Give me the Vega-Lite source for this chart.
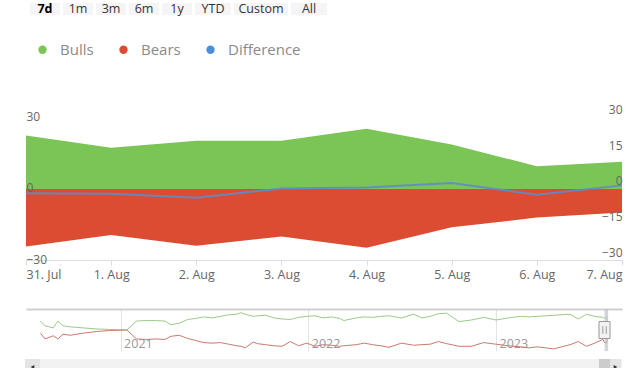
{
  "$schema": "https://vega.github.io/schema/vega-lite/v6.json",
  "background": "white",
  "padding": {"left": 22, "right": 22, "top": 3, "bottom": 0},
  "config": {"font": "Open Sans", "view": {"stroke": null}},
  "spacing": 28,
  "resolve": {"scale": {"x": "independent", "y": "independent", "color": "independent"}},
  "vconcat": [
    {
      "spacing": 26,
      "resolve": {"scale": {"x": "independent", "y": "independent", "color": "independent"}},
      "vconcat": [
        {
          "width": 302,
          "height": 12,
          "data": {"values": [{"label": "7d"}, {"label": "1m"}, {"label": "3m"}, {"label": "6m"}, {"label": "1y"}, {"label": "YTD"}, {"label": "Custom"}, {"label": "All"}]},
          "transform": [
            {"calculate": "6 * length(datum.label) + 18", "as": "w"},
            {"calculate": "datum.w + 3", "as": "stepw"},
            {"window": [{"op": "sum", "field": "stepw", "as": "cum"}], "frame": [null, 0]},
            {"calculate": "4 + datum.cum - datum.stepw", "as": "left"},
            {"calculate": "datum.left + datum.w", "as": "right"},
            {"calculate": "datum.left + datum.w / 2", "as": "mid"}
          ],
          "layer": [
            {
              "mark": {"type": "rect", "color": "#f5f5f5"},
              "encoding": {
                "x": {"field": "left", "type": "quantitative", "scale": {"domain": [0, 302], "nice": false, "zero": false}, "axis": null},
                "x2": {"field": "right"}
              }
            },
            {
              "transform": [{"filter": "datum.label !== '7d'"}],
              "mark": {"type": "text", "fontSize": 12.5, "color": "#333333", "baseline": "middle"},
              "encoding": {"x": {"field": "mid", "type": "quantitative"}, "text": {"field": "label"}}
            },
            {
              "transform": [{"filter": "datum.label === '7d'"}],
              "mark": {"type": "text", "fontSize": 12.5, "fontWeight": "bold", "color": "#000000", "baseline": "middle"},
              "encoding": {"x": {"field": "mid", "type": "quantitative"}, "text": {"field": "label"}}
            }
          ]
        },
        {
          "width": 596,
          "height": 154,
          "data": {
            "values": [
              {"date": "2023-07-31", "Bulls": 22.5, "Bears": -24.3, "Difference": -1.8},
              {"date": "2023-08-01", "Bulls": 17.4, "Bears": -19.4, "Difference": -2.0},
              {"date": "2023-08-02", "Bulls": 20.3, "Bears": -24.0, "Difference": -3.7},
              {"date": "2023-08-03", "Bulls": 20.3, "Bears": -20.1, "Difference": 0.2},
              {"date": "2023-08-04", "Bulls": 25.4, "Bears": -24.8, "Difference": 0.6},
              {"date": "2023-08-05", "Bulls": 18.7, "Bears": -16.2, "Difference": 2.5},
              {"date": "2023-08-06", "Bulls": 9.6, "Bears": -12.1, "Difference": -2.5},
              {"date": "2023-08-07", "Bulls": 11.5, "Bears": -10.0, "Difference": 1.5}
            ],
            "format": {"parse": {"date": "date:'%Y-%m-%d'"}}
          },
          "resolve": {"axis": {"y": "independent"}},
          "layer": [
            {
              "transform": [{"fold": ["Bulls", "Bears"], "as": ["series", "value"]}],
              "mark": {"type": "area", "opacity": 1},
              "encoding": {
                "x": {"field": "date", "type": "temporal", "axis": {"format": "%-d. %b", "tickCount": {"interval": "day", "step": 1}, "labelFlush": true, "title": null, "grid": false, "domainColor": "#d8dde8", "tickColor": "#d8dde8", "tickSize": 5, "labelColor": "#666666", "labelFontSize": 12.5, "labelPadding": 3, "labelAngle": 0}},
                "y": {"field": "value", "type": "quantitative", "stack": null, "scale": {"domain": [-30, 35], "nice": false, "zero": false}, "axis": {"orient": "left", "values": [-30, 0, 30], "title": null, "domain": false, "ticks": false, "tickSize": 0, "grid": false, "labelAlign": "left", "labelPadding": 0, "labelOffset": -1, "labelColor": "#666666", "labelFontSize": 12, "zindex": 1}},
                "y2": {"datum": 0},
                "color": {"field": "series", "type": "nominal", "scale": {"domain": ["Bulls", "Bears", "Difference"], "range": ["#7bc456", "#db4c33", "#4a8fdc"]}, "legend": {"orient": "none", "legendX": 9, "legendY": -64, "direction": "horizontal", "title": null, "symbolType": "circle", "symbolSize": 70, "symbolStrokeWidth": 0, "labelFontSize": 15, "labelColor": "#8a8a8a", "labelOffset": 10, "columnPadding": 22, "padding": 0}}
              }
            },
            {
              "mark": {"type": "line", "color": "#5b8dc9", "strokeWidth": 2, "opacity": 0.9},
              "encoding": {
                "x": {"field": "date", "type": "temporal"},
                "y": {"field": "Difference", "type": "quantitative", "axis": {"orient": "right", "values": [-30, -15, 0, 15, 30], "title": null, "domain": false, "ticks": false, "tickSize": 0, "grid": false, "labelAlign": "right", "labelPadding": 0, "labelOffset": -8, "labelColor": "#666666", "labelFontSize": 12, "zindex": 1}}
              }
            }
          ]
        }
      ]
    },
    {
      "spacing": 0,
      "resolve": {"scale": {"x": "independent", "y": "independent"}},
      "vconcat": [
        {
          "width": 596,
          "height": 42,
          "resolve": {"axis": {"x": "independent"}},
          "layer": [
            {
              "data": {"name": "nav"},
              "mark": {"type": "line", "color": "#9cca88", "strokeWidth": 1},
              "encoding": {
                "x": {"field": "date", "type": "temporal", "scale": {"domain": [{"year": 2020, "month": 7, "date": 1}, {"year": 2023, "month": 9, "date": 3}]}, "axis": {"orient": "bottom", "values": [{"year": 2021, "month": 1, "date": 1}, {"year": 2022, "month": 1, "date": 1}, {"year": 2023, "month": 1, "date": 1}], "format": "%Y", "title": null, "grid": true, "gridColor": "#e3e3e3", "domain": false, "ticks": false, "tickSize": 0, "labelAlign": "left", "labelBaseline": "alphabetic", "labelPadding": -4, "labelOffset": 3, "labelFlush": false, "labelColor": "#999999", "labelFontSize": 12.5}},
                "y": {"field": "bulls", "type": "quantitative", "scale": {"domain": [-40, 40], "nice": false, "zero": false}, "axis": null}
              }
            },
            {
              "data": {"name": "nav"},
              "mark": {"type": "line", "color": "#c97a70", "strokeWidth": 1},
              "encoding": {
                "x": {"field": "date", "type": "temporal", "axis": null},
                "y": {"field": "bears", "type": "quantitative", "axis": null}
              }
            },
            {
              "data": {"name": "sel"},
              "mark": {"type": "rect", "color": "#bfc4cc", "opacity": 0.7},
              "encoding": {
                "x": {"field": "start", "type": "temporal", "axis": {"orient": "top", "labels": false, "ticks": false, "grid": false, "domain": true, "domainColor": "#d0d0d0", "domainWidth": 2, "title": null}},
                "x2": {"field": "end"}
              }
            },
            {
              "data": {"name": "sel"},
              "mark": {"type": "point", "shape": "M-0.65,-1H0.65V1H-0.65Z M-0.2,-0.45V0.45 M0.2,-0.45V0.45", "size": 289, "filled": true, "fill": "#f2f2f2", "stroke": "#999999", "strokeWidth": 1, "opacity": 1},
              "encoding": {
                "x": {"field": "start", "type": "temporal", "axis": null},
                "y": {"datum": 0}
              }
            }
          ]
        },
        {
          "width": 596,
          "height": 16,
          "view": {"fill": "#f2f2f2", "stroke": null},
          "resolve": {"scale": {"x": "independent"}},
          "layer": [
            {
              "data": {"name": "sel"},
              "mark": {"type": "rule", "color": "#cccccc", "strokeWidth": 11},
              "encoding": {"x": {"field": "start", "type": "temporal", "scale": {"domain": [{"year": 2020, "month": 7, "date": 1}, {"year": 2023, "month": 9, "date": 3}]}, "axis": null}}
            },
            {
              "data": {"values": [{"part": "left"}, {"part": "right"}]},
              "mark": {"type": "rule", "color": "#e4e4e4"},
              "encoding": {
                "x": {"field": "part", "type": "nominal", "scale": {"type": "point", "padding": 0.0111}, "axis": null},
                "size": {"field": "part", "type": "nominal", "scale": {"domain": ["left", "right"], "range": [15, 11]}, "legend": null}
              }
            },
            {
              "data": {"values": [{"part": "left"}, {"part": "right"}]},
              "mark": {"type": "point", "filled": true, "color": "#333333", "size": 18, "opacity": 1},
              "encoding": {
                "x": {"field": "part", "type": "nominal", "scale": {"type": "point", "padding": 0.0111}, "axis": null},
                "shape": {"field": "part", "type": "nominal", "scale": {"domain": ["left", "right"], "range": ["triangle-left", "triangle-right"]}, "legend": null}
              }
            }
          ]
        }
      ]
    }
  ],
  "datasets": {
    "sel": [{"start": "2023-07-31T00:00:00", "end": "2023-08-07T00:00:00"}],
    "nav": [
      {"date": "2020-07-29T00:00:00", "bulls": 17, "bears": -6},
      {"date": "2020-08-07T00:00:00", "bulls": 8, "bears": -17},
      {"date": "2020-08-23T00:00:00", "bulls": 4, "bears": -11},
      {"date": "2020-09-01T00:00:00", "bulls": 17, "bears": -17},
      {"date": "2020-09-11T00:00:00", "bulls": 8, "bears": -8},
      {"date": "2020-09-25T00:00:00", "bulls": 6, "bears": -10},
      {"date": "2020-10-20T00:00:00", "bulls": 4, "bears": -6},
      {"date": "2020-11-15T00:00:00", "bulls": 2, "bears": -3},
      {"date": "2020-12-10T00:00:00", "bulls": 1, "bears": -1},
      {"date": "2021-01-13T00:00:00", "bulls": 0, "bears": 0},
      {"date": "2021-02-01T00:00:00", "bulls": 17, "bears": -17},
      {"date": "2021-02-20T00:00:00", "bulls": 18, "bears": -18},
      {"date": "2021-03-10T00:00:00", "bulls": 18, "bears": -17},
      {"date": "2021-03-28T00:00:00", "bulls": 17, "bears": -18},
      {"date": "2021-04-09T00:00:00", "bulls": 10, "bears": -12},
      {"date": "2021-04-25T00:00:00", "bulls": 13, "bears": -10},
      {"date": "2021-05-11T00:00:00", "bulls": 20, "bears": -16},
      {"date": "2021-05-27T00:00:00", "bulls": 22, "bears": -20},
      {"date": "2021-06-12T00:00:00", "bulls": 25, "bears": -24},
      {"date": "2021-06-28T00:00:00", "bulls": 23, "bears": -25},
      {"date": "2021-07-14T00:00:00", "bulls": 26, "bears": -24},
      {"date": "2021-07-30T00:00:00", "bulls": 29, "bears": -27},
      {"date": "2021-08-15T00:00:00", "bulls": 30, "bears": -30},
      {"date": "2021-08-23T00:00:00", "bulls": 33, "bears": -31},
      {"date": "2021-08-31T00:00:00", "bulls": 30, "bears": -34},
      {"date": "2021-09-16T00:00:00", "bulls": 26, "bears": -23},
      {"date": "2021-09-24T00:00:00", "bulls": 27, "bears": -26},
      {"date": "2021-10-10T00:00:00", "bulls": 28, "bears": -28},
      {"date": "2021-10-26T00:00:00", "bulls": 23, "bears": -30},
      {"date": "2021-11-11T00:00:00", "bulls": 21, "bears": -31},
      {"date": "2021-11-27T00:00:00", "bulls": 20, "bears": -22},
      {"date": "2021-12-13T00:00:00", "bulls": 24, "bears": -30},
      {"date": "2021-12-29T00:00:00", "bulls": 26, "bears": -25},
      {"date": "2022-01-14T00:00:00", "bulls": 27, "bears": -31},
      {"date": "2022-01-30T00:00:00", "bulls": 23, "bears": -28},
      {"date": "2022-02-15T00:00:00", "bulls": 25, "bears": -29},
      {"date": "2022-03-03T00:00:00", "bulls": 22, "bears": -31},
      {"date": "2022-03-11T00:00:00", "bulls": 18, "bears": -30},
      {"date": "2022-04-04T00:00:00", "bulls": 23, "bears": -28},
      {"date": "2022-04-20T00:00:00", "bulls": 25, "bears": -25},
      {"date": "2022-05-06T00:00:00", "bulls": 24, "bears": -28},
      {"date": "2022-05-22T00:00:00", "bulls": 26, "bears": -30},
      {"date": "2022-06-07T00:00:00", "bulls": 27, "bears": -33},
      {"date": "2022-07-01T00:00:00", "bulls": 23, "bears": -25},
      {"date": "2022-07-25T00:00:00", "bulls": 30, "bears": -29},
      {"date": "2022-08-10T00:00:00", "bulls": 23, "bears": -28},
      {"date": "2022-08-26T00:00:00", "bulls": 26, "bears": -27},
      {"date": "2022-09-11T00:00:00", "bulls": 31, "bears": -22},
      {"date": "2022-09-27T00:00:00", "bulls": 32, "bears": -26},
      {"date": "2022-10-21T00:00:00", "bulls": 16, "bears": -31},
      {"date": "2022-11-14T00:00:00", "bulls": 19, "bears": -31},
      {"date": "2022-12-08T00:00:00", "bulls": 24, "bears": -24},
      {"date": "2023-01-01T00:00:00", "bulls": 19, "bears": -27},
      {"date": "2023-01-25T00:00:00", "bulls": 23, "bears": -30},
      {"date": "2023-02-18T00:00:00", "bulls": 26, "bears": -32},
      {"date": "2023-03-06T00:00:00", "bulls": 25, "bears": -34},
      {"date": "2023-03-22T00:00:00", "bulls": 26, "bears": -32},
      {"date": "2023-04-23T00:00:00", "bulls": 28, "bears": -36},
      {"date": "2023-05-25T00:00:00", "bulls": 30, "bears": -28},
      {"date": "2023-06-10T00:00:00", "bulls": 21, "bears": -22},
      {"date": "2023-06-26T00:00:00", "bulls": 30, "bears": -31},
      {"date": "2023-07-12T00:00:00", "bulls": 26, "bears": -25},
      {"date": "2023-07-28T00:00:00", "bulls": 24, "bears": -18},
      {"date": "2023-07-31T00:00:00", "bulls": 22, "bears": -24},
      {"date": "2023-08-04T00:00:00", "bulls": 25, "bears": -25},
      {"date": "2023-08-07T00:00:00", "bulls": 12, "bears": -10}
    ]
  }
}
